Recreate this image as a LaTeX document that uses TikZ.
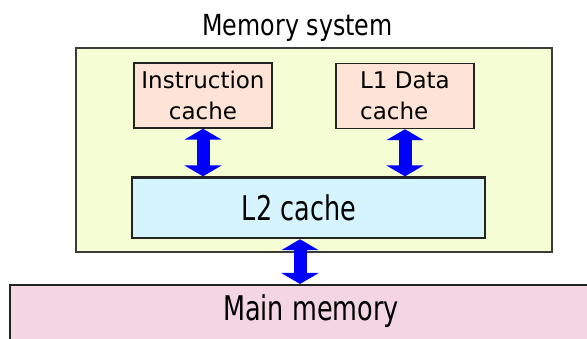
\documentclass[tikz,border=0pt]{standalone}
\usepackage{fontspec}
\setmainfont{DejaVu Sans}
\newfontfamily\titlefont{DejaVu Sans}[FakeStretch=0.82]
\newfontfamily\bigfont{DejaVu Sans}[FakeStretch=0.75]
\usepackage{xcolor}
\usetikzlibrary{
    arrows.meta,
    positioning
}
\definecolor{sysyellow}{HTML}{F4FDD4}
\definecolor{cachepeach}{HTML}{FDE4D6}
\definecolor{lcyan}{HTML}{D5F4FD}
\definecolor{mempink}{HTML}{F3D6E2}
\definecolor{busblue}{HTML}{0000FF}
\definecolor{boxline}{HTML}{232323}
\definecolor{sysline}{HTML}{3C3C34}

\begin{document}
\begin{tikzpicture}[x=1pt, y=-1pt,
    cachebox/.style={draw=boxline, line width=1.5pt, fill=cachepeach, minimum width=138pt, minimum height=65pt, inner sep=0pt, font=\fontsize{23}{31}\selectfont},
    bus/.style={draw=busblue, line width=13pt, {Triangle[width=37pt,length=11pt]}-{Triangle[width=37pt,length=11pt]}}
]
    \useasboundingbox (0, 0) rectangle (587, 339);
    \clip (0, 0) rectangle (587, 339);
    % memory system
    \node[draw=sysline, line width=1.3pt, fill=sysyellow, minimum width=476pt, minimum height=204pt] (memsys) at (314, 150) {};
    \node[anchor=base, font=\titlefont\fontsize{29}{31}\selectfont] (title) at (297.5, 35.7) {Memory system};
    \node[cachebox, align=center] (icache) at (203, 95.5) {Instruction\\cache};
    \node[cachebox, align=left] (dcache) at (405, 96) {L1 Data\\cache};
    \node[draw=boxline, line width=2.4pt, fill=lcyan, minimum width=353pt, minimum height=60.5pt, inner sep=0pt, font=\bigfont\fontsize{34}{36}\selectfont] (l2) at (308.5, 207.8) {\hspace*{-19pt}L2 cache};
    % main memory
    \node[draw=boxline, line width=2pt, fill=mempink, minimum width=602pt, minimum height=70pt, text height=25pt, text depth=23pt, font=\bigfont\fontsize{34}{36}\selectfont] (main) at (311, 320) {Main memory};
    \draw[bus] (icache.south) -- (icache.south |- l2.north);
    \draw[bus] (dcache.south) -- (dcache.south |- l2.north);
    \draw[bus] ([xshift=-8.5pt]l2.south) -- ([xshift=-8.5pt]l2.south |- main.north);
\end{tikzpicture}
\end{document}
